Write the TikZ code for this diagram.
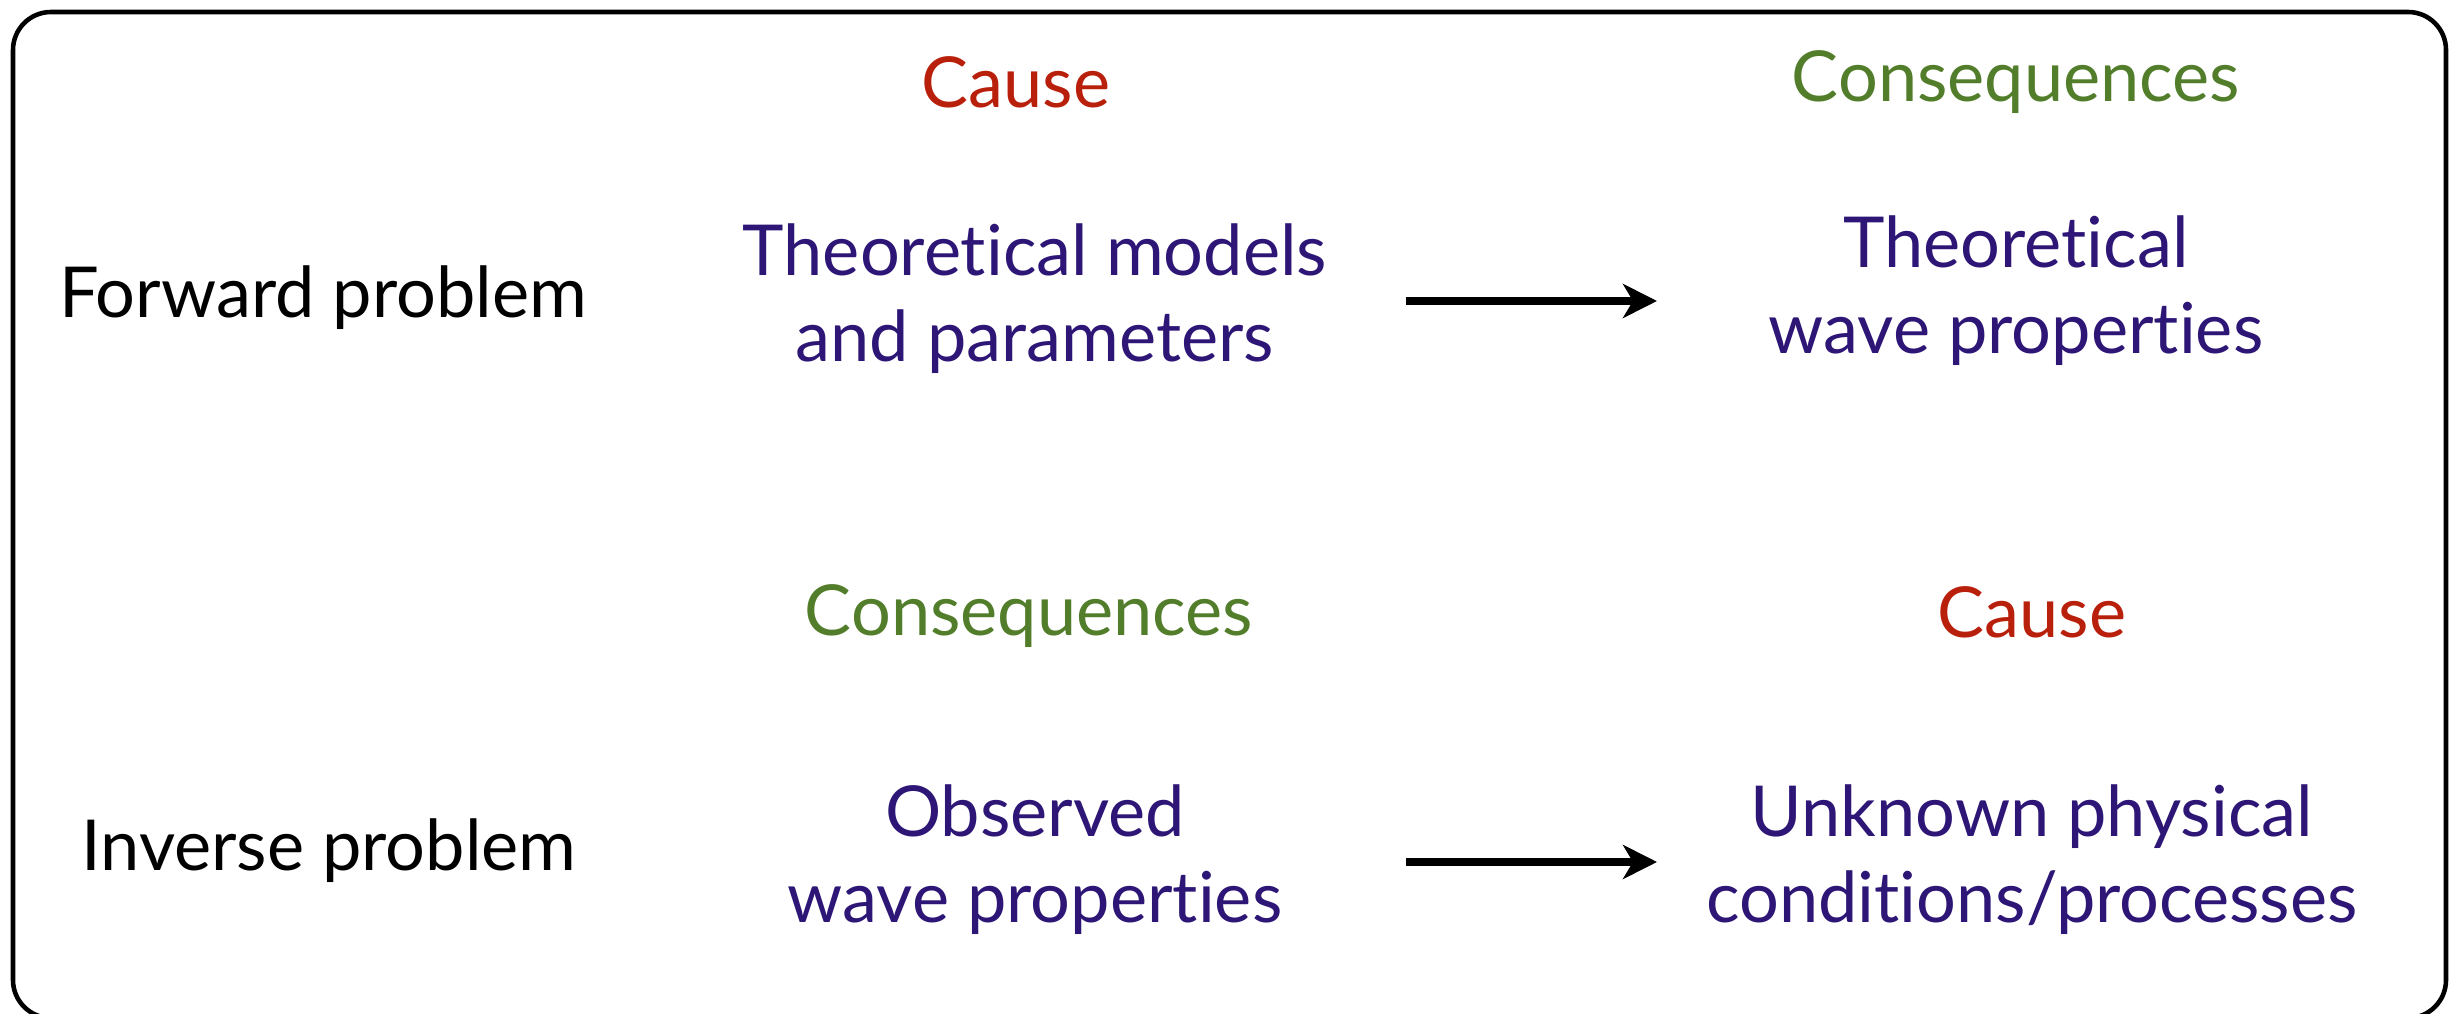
\documentclass[tikz,border=0pt]{standalone}
\usepackage{fontspec}
\setmainfont{Lato}[RawFeature={-liga;-clig;-dlig;-calt}]
\usetikzlibrary{arrows.meta}
\definecolor{causered}{RGB}{185,32,12}
\definecolor{conseqgreen}{RGB}{82,125,42}
\definecolor{deeppurple}{RGB}{45,22,118}
\tikzset{
  >={Stealth[length=3.4mm,width=3.4mm,inset=1mm]},
  big/.style={font=\fontsize{20}{24.5}\selectfont,align=center,inner sep=0pt},
  head/.style={big,text=#1},
  head/.default=causered,
  item/.style={big,text=deeppurple},
  rowlabel/.style={big,text=black},
  flow/.style={->,line width=2.2pt,draw=black},
}
\begin{document}
\begin{tikzpicture}
  \useasboundingbox (0,0) rectangle (24.59,10.13);
  \draw[line width=1.3pt,rounded corners=3.8mm] (0.13,-0.05) rectangle (24.46,10.01);
  % forward problem
  \node[head=causered] (cause1) at (10.16,9.31) {Cause};
  \node[head=conseqgreen] (cons1) at (20.16,9.31) {Consequences};
  \node[rowlabel] (fwd) at (3.23,7.15) {Forward problem};
  \node[item] (models) at (10.35,7.14) {Theoretical models\\and parameters};
  \node[item] (theowave) at (20.16,7.22) {Theoretical\\wave properties};
  \coordinate (a1) at (14.06,7.12);
  \coordinate (b1) at (16.57,7.12);
  \draw[flow] (a1) -- (b1);
  % inverse problem
  \node[head=conseqgreen] (cons2) at (10.29,3.97) {Consequences};
  \node[head=causered] (cause2) at (20.32,4.01) {Cause};
  \node[rowlabel] (inv) at (3.29,1.62) {Inverse problem};
  \node[item] (obswave) at (10.35,1.53) {Observed\\wave properties};
  \node[item] (unknown) at (20.32,1.53) {Unknown physical\\conditions/processes};
  \coordinate (a2) at (14.06,1.51);
  \coordinate (b2) at (16.57,1.51);
  \draw[flow] (a2) -- (b2);
\end{tikzpicture}
\end{document}
